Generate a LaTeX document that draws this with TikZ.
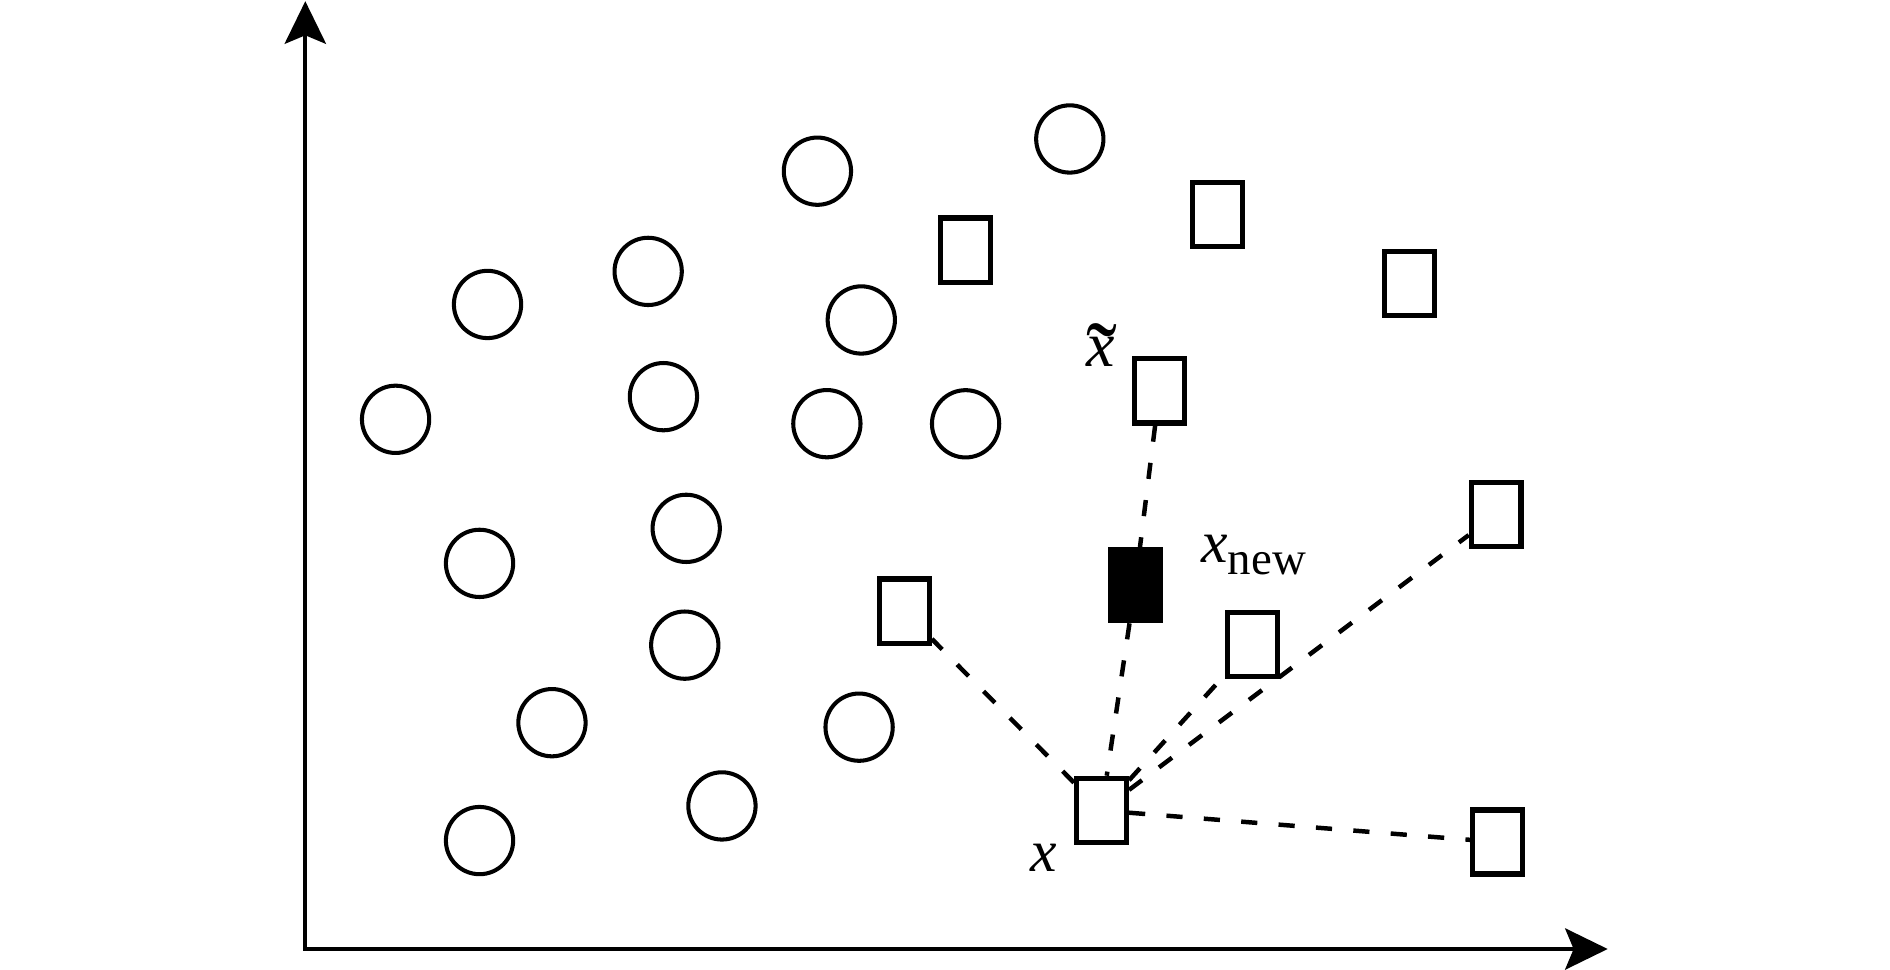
\documentclass[tikz,border=0pt]{standalone}
\usepackage{fontspec}
\usepackage{graphicx}
\setmainfont{Liberation Serif}
\usetikzlibrary{arrows.meta}

\begin{document}
\begin{tikzpicture}[x=0.01cm, y=-0.01cm,
        pt/.style={circle, draw=black, line width=0.95pt, minimum size=0.555cm, inner sep=0pt},
        sq/.style={rectangle, draw=black, line width=1.25pt, minimum width=0.41cm, minimum height=0.53cm, inner sep=0pt},
        lbl/.style={draw=none, fill=none, inner sep=0pt, anchor=base west, font=\fontsize{14}{16}\selectfont},
        lnk/.style={dash pattern=on 3.8pt off 5pt, line width=1.05pt},
        axis/.style={line width=0.85pt, {Stealth[length=10pt,width=9.7pt,inset=2pt]}-{Stealth[length=10pt,width=9.7pt,inset=2pt]}}
      ]
  \useasboundingbox (0,0) rectangle (1560,800.6);

  % axes
  \coordinate (o) at (252,783.3);
  \coordinate (ytop) at (252,1);
  \coordinate (xend) at (1327,783.3);
  \draw[axis] (ytop) -- (o) -- (xend);

  % class one
  \foreach \px/\py [count=\i] in {674.7/141.3, 883/114.7, 402.4/251.3, 535/224,
      710.9/264.1, 326.5/346.1, 547.6/327.4, 682.5/349.7, 797/349.8, 395.8/465,
      566.4/436.1, 565.2/532.5, 455.6/596.5, 709.1/600.2, 595.9/665.2, 395.8/693.8} {
    \node[pt] (c\i) at (\px,\py) {};
  }

  % class two
  \foreach \px/\py [count=\i] in {797/206.5, 1005/177, 1163.4/234, 746.5/504.5,
      1033.7/532, 1235/424.6, 1236/695} {
    \node[sq] (r\i) at (\px,\py) {};
  }
  \node[sq] (xt) at (957,322.6) {};
  \node[sq] (xs) at (909.2,669) {};
  \node[sq, fill=black, minimum height=0.585cm] (xn) at (937,483) {};

  % neighbours
  \draw[lnk] (xs) -- (r4);
  \draw[lnk] (xt) -- (xn) -- (xs);
  \draw[lnk] (xs) -- (r5);
  \draw[lnk] (xs) -- (r6);
  \draw[lnk] (xs) -- (r7);

  % labels
  \node[lbl, font=\fontsize{15}{17}\selectfont] (xtl) at (896,302.7)
    {\makebox[0pt][l]{\raisebox{-0.4em}{\scalebox{1.45}[1.6]{\char"02DC}}}\textit{x}};
  \node[lbl] (xnl) at (991,464.5) {\textit{x}\raisebox{-2.8pt}{\fontsize{11}{13}\selectfont new}};
  \node[lbl] (xsl) at (850,719) {\textit{x}};
\end{tikzpicture}
\end{document}
